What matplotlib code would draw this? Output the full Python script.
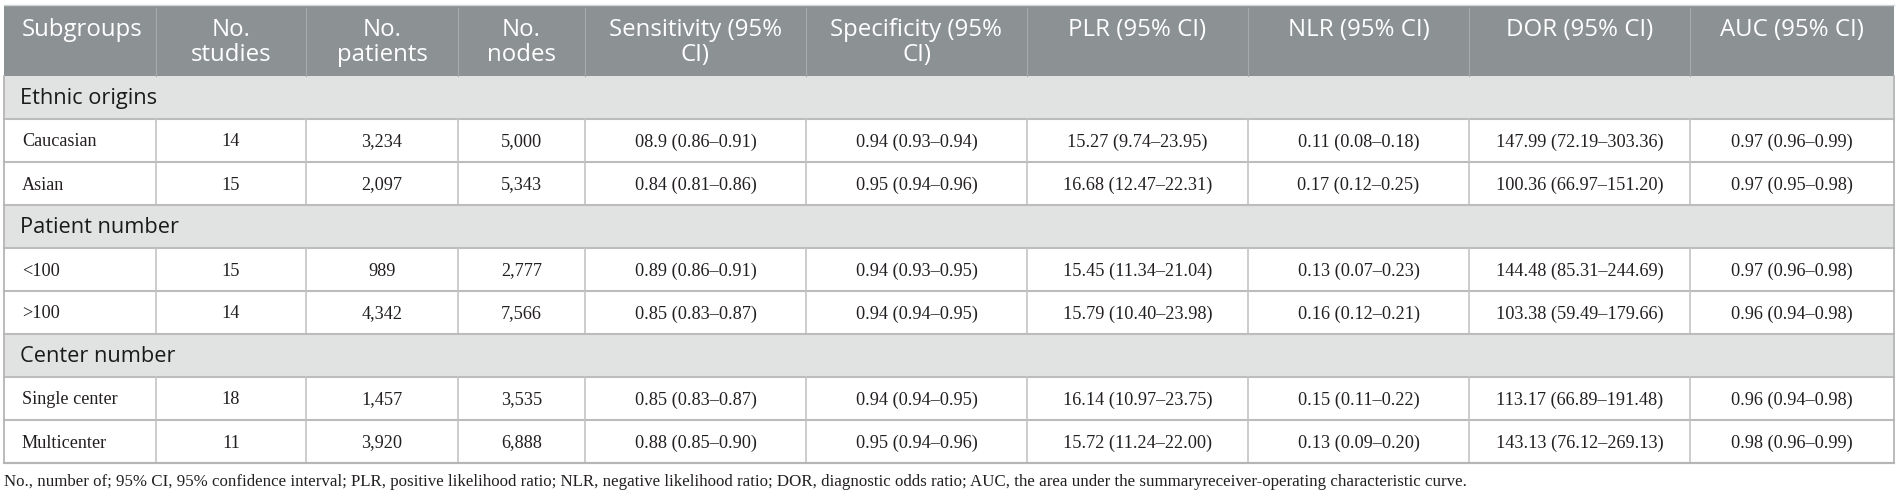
import matplotlib.pyplot as plt
from matplotlib.patches import Rectangle

# table content
headers = ["Subgroups", "No.\nstudies", "No.\npatients", "No.\nnodes",
           "Sensitivity (95%\nCI)", "Specificity (95%\nCI)", "PLR (95% CI)",
           "NLR (95% CI)", "DOR (95% CI)", "AUC (95% CI)"]
sections = ["Ethnic origins", "Patient number", "Center number"]
subgroups = [["Caucasian", "Asian"], ["<100", ">100"], ["Single center", "Multicenter"]]
studies = [14, 15, 15, 14, 18, 11]
patients = [3234, 2097, 989, 4342, 1457, 3920]
nodes = [5000, 5343, 2777, 7566, 3535, 6888]
sensitivity = ["08.9 (0.86\u20130.91)", "0.84 (0.81\u20130.86)", "0.89 (0.86\u20130.91)",
               "0.85 (0.83\u20130.87)", "0.85 (0.83\u20130.87)", "0.88 (0.85\u20130.90)"]
specificity = ["0.94 (0.93\u20130.94)", "0.95 (0.94\u20130.96)", "0.94 (0.93\u20130.95)",
               "0.94 (0.94\u20130.95)", "0.94 (0.94\u20130.95)", "0.95 (0.94\u20130.96)"]
plr = ["15.27 (9.74\u201323.95)", "16.68 (12.47\u201322.31)", "15.45 (11.34\u201321.04)",
       "15.79 (10.40\u201323.98)", "16.14 (10.97\u201323.75)", "15.72 (11.24\u201322.00)"]
nlr = ["0.11 (0.08\u20130.18)", "0.17 (0.12\u20130.25)", "0.13 (0.07\u20130.23)",
       "0.16 (0.12\u20130.21)", "0.15 (0.11\u20130.22)", "0.13 (0.09\u20130.20)"]
dor = ["147.99 (72.19\u2013303.36)", "100.36 (66.97\u2013151.20)", "144.48 (85.31\u2013244.69)",
       "103.38 (59.49\u2013179.66)", "113.17 (66.89\u2013191.48)", "143.13 (76.12\u2013269.13)"]
auc = ["0.97 (0.96\u20130.99)", "0.97 (0.95\u20130.98)", "0.97 (0.96\u20130.98)",
       "0.96 (0.94\u20130.98)", "0.96 (0.94\u20130.98)", "0.98 (0.96\u20130.99)"]
footnote = ("No., number of; 95% CI, 95% confidence interval; PLR, positive likelihood ratio; "
            "NLR, negative likelihood ratio; DOR, diagnostic odds ratio; AUC, the area under "
            "the summaryreceiver-operating characteristic curve.")

# layout (pixels)
col_edges = [4, 156, 306, 458, 585, 806, 1027, 1248, 1469, 1690, 1894]
head_top, head_bot = 5, 76
row_h = 43
head_bg = '#8c9194'
sec_bg = '#e1e3e2'
grid = '#bcbcbc'
sans = 'Open Sans'
serif = 'Liberation Serif'
txt = '#231f20'

fig = plt.figure(figsize=(19.01, 4.96), dpi=100)
ax = fig.add_axes([0, 0, 1, 1])
ax.set_xlim(0, 1901)
ax.set_ylim(496, 0)
ax.axis('off')
renderer = fig.canvas.get_renderer()


def fit_size(s, family, target_px):
    # font size giving a text width of target_px (widths)
    t = ax.text(0, 0, s, family=family, fontsize=10)
    w = t.get_window_extent(renderer).width
    t.remove()
    return 10 * target_px / w


fs_head = fit_size("Sensitivity (95%", sans, 174)
fs_sec = fit_size("Ethnic origins", sans, 137)
fs_cell = fit_size(dor[5], serif, 167)
fs_note = fit_size(footnote, serif, 1458)

left, right = col_edges[0], col_edges[-1]

# header
ax.add_patch(Rectangle((left, head_top), right - left, head_bot - head_top,
                       fc=head_bg, ec='none'))
ax.plot([left, right], [head_top, head_top], color='#d0d3d4', lw=1.0)
for x in col_edges[1:-1]:
    ax.plot([x, x], [head_top + 3, head_bot], color='#a6aaac', lw=0.8)
for i, h in enumerate(headers):
    for j, line in enumerate(h.split('\n')):
        y = 30 + 25 * j
        if i == 0:
            ax.text(22, y, line, ha='left', va='center', color='white',
                    family=sans, fontsize=fs_head)
        else:
            xc = (col_edges[i] + col_edges[i + 1]) / 2
            ax.text(xc, y, line, ha='center', va='center', color='white',
                    family=sans, fontsize=fs_head)

# body
y = head_bot
k = 0
for s, sec in enumerate(sections):
    ax.add_patch(Rectangle((left, y), right - left, row_h, fc=sec_bg, ec='none'))
    ax.text(20, y + row_h / 2 + 1, sec, ha='left', va='center', color='#1a1a1a',
            family=sans, fontsize=fs_sec)
    ax.plot([left, right], [y + row_h, y + row_h], color=grid, lw=1.5)
    y += row_h
    for name in subgroups[s]:
        cells = [name, str(studies[k]), f"{patients[k]:,}", f"{nodes[k]:,}",
                 sensitivity[k], specificity[k], plr[k], nlr[k], dor[k], auc[k]]
        yc = y + row_h / 2 + 1.5
        for i, c in enumerate(cells):
            if i == 0:
                ax.text(22, yc, c, ha='left', va='center', color=txt,
                        family=serif, fontsize=fs_cell)
            else:
                xc = (col_edges[i] + col_edges[i + 1]) / 2
                ax.text(xc, yc, c, ha='center', va='center', color=txt,
                        family=serif, fontsize=fs_cell)
        for x in col_edges[1:-1]:
            ax.plot([x, x], [y, y + row_h], color='#c4c4c4', lw=1.2)
        ax.plot([left, right], [y + row_h, y + row_h], color=grid, lw=1.5)
        y += row_h
        k += 1

# outer border
ax.plot([left, left], [head_bot, y], color='#b5b5b5', lw=1.3)
ax.plot([right, right], [head_bot, y], color='#b5b5b5', lw=1.3)
ax.plot([left, right], [y, y], color='#b5b5b5', lw=1.5)

ax.text(4, 482, footnote, ha='left', va='center', color=txt, family=serif, fontsize=fs_note)

fig.savefig('out.png', dpi=100)
